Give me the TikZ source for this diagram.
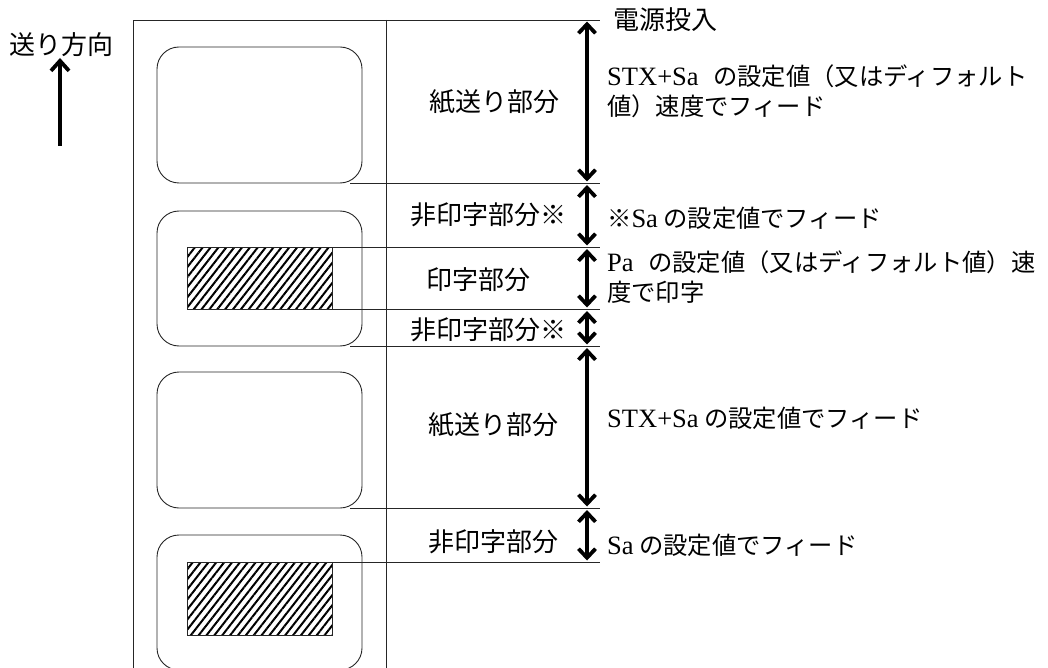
\documentclass[tikz,border=0pt]{standalone}
\usepackage{fontspec}
\setmainfont{Liberation Serif}
\newfontfamily\jp{Noto Sans CJK JP}
\usetikzlibrary{arrows.meta,patterns.meta}
\newcommand{\lat}[1]{{\rmfamily\fontsize{26.5}{30}\selectfont #1}}
\begin{document}
\begin{tikzpicture}[x=1pt,y=-1pt,
  frame/.style={line width=0.9pt, draw=black!85},
  label/.style={line width=0.9pt, draw=black!85, rounded corners=22pt},
  hatch/.style={line width=0.9pt, draw=black!85, pattern={Lines[angle=52,distance=6.2pt,line width=2pt]}},
  dimarrow/.style={line width=3.8pt, {Straight Barb[length=9pt,width=17pt]}-{Straight Barb[length=9pt,width=17pt]}},
  feedarrow/.style={line width=3.8pt, -{Straight Barb[length=10pt,width=18pt]}},
  lefttxt/.style={font=\jp\fontsize{26}{30}\selectfont, inner sep=0pt},
  righttxt/.style={font=\jp\fontsize{24.3}{30}\selectfont, inner sep=0pt, anchor=west, align=left}]
\useasboundingbox (0,0) rectangle (1048,668);
\clip (0,0) rectangle (1048,668);

% feed direction
\node[lefttxt, anchor=west] (dir) at (9,45) {送り方向};
\coordinate (dirA) at (60,146);
\coordinate (dirB) at (60,58);
\draw[feedarrow] (dirA) -- (dirB);

% frame
\draw[frame] (133,668) -- (133,20) -- (600,20);
\draw[frame] (386,20) -- (386,668);

% labels on paper
\draw[label] (157,47) rectangle (362,183);
\draw[label] (157,211) rectangle (362,346);
\draw[label] (157,372) rectangle (362,508);
\draw[label] (157,535) rectangle (362,670);
\draw[hatch] (187,247) rectangle (332,309);
\draw[hatch] (187,562) rectangle (332,635);

% division lines
\draw[frame] (350,183) -- (600,183);
\draw[frame] (187,247) -- (600,247);
\draw[frame] (187,309) -- (600,309);
\draw[frame] (350,346) -- (600,346);
\draw[frame] (350,508) -- (600,508);
\draw[frame] (187,562) -- (600,562);

% arrow coordinates
\coordinate (p0) at (587,21.5);
\coordinate (p1a) at (587,181.5);
\coordinate (p1b) at (587,185);
\coordinate (p2a) at (587,245.5);
\coordinate (p2b) at (587,249);
\coordinate (p3a) at (587,307.5);
\coordinate (p3b) at (587,311);
\coordinate (p4a) at (587,344.5);
\coordinate (p4b) at (587,348);
\coordinate (p5a) at (587,506.5);
\coordinate (p5b) at (587,510);
\coordinate (p6a) at (587,560.5);
\draw[dimarrow] (p0) -- (p1a);
\draw[dimarrow] (p1b) -- (p2a);
\draw[dimarrow] (p2b) -- (p3a);
\draw[dimarrow] (p3b) -- (p4a);
\draw[dimarrow] (p4b) -- (p5a);
\draw[dimarrow] (p5b) -- (p6a);

% left labels
\node[lefttxt] (l1) at (494,102) {紙送り部分};
\node[lefttxt] (l2) at (488,215) {非印字部分※};
\node[lefttxt] (l3) at (478,280) {印字部分};
\node[lefttxt] (l4) at (488,330) {非印字部分※};
\node[lefttxt] (l5) at (493,425) {紙送り部分};
\node[lefttxt] (l6) at (493,542) {非印字部分};

% right texts
\node[righttxt, font=\jp\fontsize{26}{30}\selectfont] (pw) at (613,20) {電源投入};
\node[righttxt] (r1) at (607,91) {\lat{STX+Sa}\hspace{0.6em}の設定値（又はディフォルト\\値）速度でフィード};
\node[righttxt] (r2) at (607,218) {※\lat{Sa} の設定値でフィード};
\node[righttxt] (r3) at (607,277) {\lat{Pa}\hspace{0.6em}の設定値（又はディフォルト値）速\\度で印字};
\node[righttxt] (r4) at (607,418) {\lat{STX+Sa} の設定値でフィード};
\node[righttxt] (r5) at (607,545) {\lat{Sa} の設定値でフィード};
\end{tikzpicture}
\end{document}
